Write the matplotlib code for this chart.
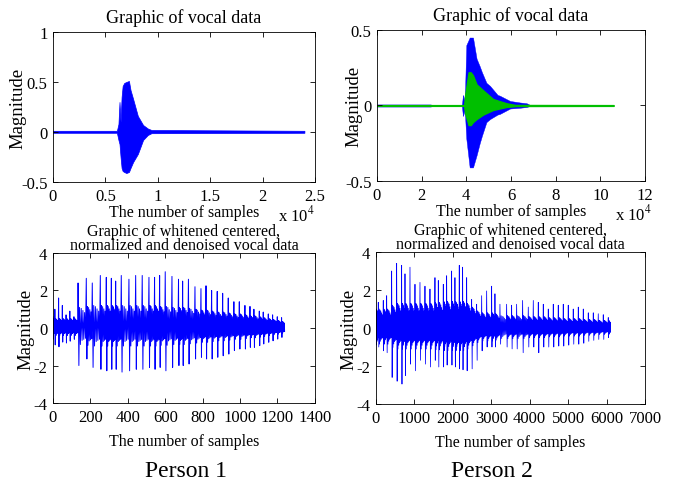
import matplotlib
matplotlib.use("Agg")
import matplotlib.pyplot as plt

plt.rcParams['font.family'] = ['Liberation Serif', 'DejaVu Serif']
plt.rcParams['mathtext.fontset'] = 'stix'
plt.rcParams['axes.unicode_minus'] = False

# --- Person 1, raw vocal data (envelope) ---
tl_x = [0, 6100, 6250, 6350, 6450, 6550, 6650, 6800, 7000, 7250, 7400, 7650, 8100, 8600, 9050, 9400, 24000]
tl_up = [0.012, 0.012, 0.08, 0.30, 0.10, 0.35, 0.46, 0.49, 0.50, 0.51, 0.42, 0.33, 0.16, 0.07, 0.035, 0.02, 0.012]
tl_lo = [-0.008, -0.008, -0.08, -0.12, -0.25, -0.36, -0.39, -0.40, -0.41, -0.40, -0.36, -0.30, -0.22, -0.08, -0.03, -0.012, -0.008]

# --- Person 2, raw vocal data (blue) and filtered (green) ---
tr_x = [0, 24000, 25000, 38000, 38500, 39300, 40000, 41500, 43000, 44600, 46000, 47000, 49000, 50600, 54000, 55000, 59600, 64000, 67000, 69000]
tr_up = [0.007, 0.007, 0.002, 0.002, 0.07, 0.03, 0.40, 0.45, 0.45, 0.31, 0.26, 0.22, 0.15, 0.13, 0.07, 0.065, 0.03, 0.02, 0.015, 0.0]
tr_lo = [-0.007, -0.007, -0.002, -0.002, -0.07, -0.03, -0.22, -0.41, -0.41, -0.33, -0.25, -0.20, -0.11, -0.09, -0.06, -0.056, -0.02, -0.015, -0.01, 0.0]

gr_x = [0, 39000, 39400, 41000, 42000, 43000, 44600, 47600, 52000, 58000, 62000, 106000]
gr_up = [0.003, 0.003, 0.065, 0.22, 0.22, 0.20, 0.14, 0.10, 0.043, 0.015, 0.004, 0.003]
gr_lo = [-0.003, -0.003, -0.05, -0.13, -0.13, -0.11, -0.09, -0.06, -0.03, -0.01, -0.004, -0.003]

# --- Person 1, whitened data: pulse positions, peaks, inner band ---
bl_pos = [0, 10, 30, 50, 70, 90, 112,
          134, 178, 210, 253, 285, 312, 335, 365, 406, 442, 477, 513, 543, 570, 600, 636, 671,
          693, 724, 759, 791, 818, 848, 878, 907, 937, 967, 996, 1026, 1053, 1074, 1103, 1124,
          1151, 1174, 1199, 1222]
bl_up = [0.6, 1.0, 1.6, 1.2, 0.7, 0.9, 0.6,
         2.4, 2.65, 2.4, 2.8, 2.7, 2.65, 2.5, 2.8, 2.6, 2.8, 2.8, 2.7, 2.7, 2.8, 3.0, 2.75, 2.6,
         2.5, 2.6, 2.2, 2.1, 2.25, 2.0, 1.95, 1.85, 1.6, 1.4, 1.4, 1.2, 1.15, 1.0, 0.9, 0.85,
         0.75, 0.7, 0.6, 0.55]
bl_down = [-0.6, -0.9, -1.0, -0.75, -0.8, -0.7, -0.6,
           -2.0, -1.65, -2.1, -2.2, -2.28, -2.2, -2.2, -2.35, -2.28, -2.2, -2.2, -2.1, -2.2, -2.1, -2.28, -2.1, -2.0,
           -2.0, -1.92, -1.65, -1.56, -1.65, -1.65, -1.56, -1.48, -1.39, -1.2, -1.12, -1.12, -1.03, -1.03, -0.94, -0.85,
           -0.76, -0.68, -0.59, -0.5]
bl_inner = [0.5] * 7 + [1.1, 1.15, 1.2, 1.2, 1.2, 1.2, 1.2, 1.2, 1.2, 1.2, 1.2, 1.2, 1.2, 1.15, 1.15, 1.1, 1.1] + \
           [1.1, 1.05, 1.0, 0.95, 0.95, 0.9, 0.85, 0.85, 0.8, 0.75, 0.75, 0.7, 0.65, 0.65, 0.6, 0.55, 0.5, 0.45, 0.4, 0.35]
bl_end = 1240

# --- Person 2, whitened data ---
br_pos = [0, 60, 190, 278, 408, 538, 668, 755, 885, 1015, 1145, 1275, 1405, 1535, 1622, 1752, 1839, 1969,
          2055, 2168, 2255, 2360, 2490, 2620, 2750, 2880, 3010, 3096, 3226, 3400, 3530, 3660, 3816, 3964,
          4094, 4224, 4354, 4484, 4614, 4744, 4874, 5004, 5134, 5265, 5395, 5525, 5655, 5785, 5915, 6045]
br_up = [0.7, 1.35, 1.45, 1.7, 3.0, 3.4, 3.3, 2.85, 3.2, 2.3, 2.4, 2.2, 2.05, 2.65, 2.5, 2.3, 2.75, 3.0,
         2.65, 3.3, 3.2, 2.65, 1.5, 1.25, 1.7, 1.95, 2.2, 1.8, 1.25, 1.25, 1.2, 1.25, 1.45, 1.1,
         1.45, 1.35, 1.25, 1.0, 1.25, 1.2, 1.25, 1.2, 1.0, 1.1, 1.0, 0.8, 0.8, 0.75, 0.7, 0.55]
br_down = [-0.9, -1.0, -1.2, -1.3, -2.6, -2.8, -2.95, -2.5, -1.9, -2.25, -1.7, -1.9, -2.05, -1.7, -2.05, -2.05, -1.95, -1.95,
           -2.05, -2.15, -2.2, -2.25, -2.15, -1.7, -1.2, -1.0, -1.0, -1.0, -0.85, -1.0, -1.1, -1.1, -1.3, -1.0,
           -1.0, -1.3, -1.0, -1.0, -1.0, -0.95, -0.95, -0.9, -0.85, -0.85, -0.8, -0.7, -0.65, -0.6, -0.6, -0.5]
br_inner = [1.0, 1.0, 1.0, 1.0, 1.2, 1.3, 1.3, 1.3, 1.3, 1.3, 1.3, 1.3, 1.3, 1.35, 1.35, 1.4, 1.4, 1.4,
            1.4, 1.4, 1.4, 1.3, 1.1, 0.9, 0.8, 0.8, 0.8, 0.75, 0.65, 0.65, 0.65, 0.65, 0.65, 0.6,
            0.6, 0.6, 0.6, 0.55, 0.55, 0.55, 0.5, 0.5, 0.5, 0.5, 0.45, 0.45, 0.45, 0.4, 0.4, 0.4]
br_end = 6110


def build_wave(pos, up, down, inner, end, shape):
    # one pulse = spike up, spike down, then smaller ringing until the next pulse
    xs, ys = [], []
    n = len(shape)
    for i, p in enumerate(pos):
        nxt = pos[i + 1] if i + 1 < len(pos) else end
        period = nxt - p
        xs += [p, p + 0.1 * period]
        ys += [up[i], down[i]]
        for j, f in enumerate(shape):
            xs.append(p + period * (0.18 + 0.82 * j / n))
            ys.append(f * inner[i] if j % 2 == 0 else -f * inner[i])
    return xs, ys


def matlab_axes(ax):
    ax.tick_params(direction='in', top=True, right=True, length=3.5, width=0.6, labelsize=12, pad=4)
    for s in ax.spines.values():
        s.set_linewidth(0.6)


fig = plt.figure(figsize=(6.75, 4.81), dpi=100)
ax1 = fig.add_axes([0.0785, 0.6195, 0.388, 0.312])
ax2 = fig.add_axes([0.5585, 0.6216, 0.397, 0.314])
ax3 = fig.add_axes([0.0785, 0.160, 0.388, 0.312])
ax4 = fig.add_axes([0.557, 0.158, 0.3985, 0.316])

# top left
ax1.fill_between(tl_x, tl_lo, tl_up, color='blue', lw=0.5)
ax1.set_xlim(0, 25000)
ax1.set_ylim(-0.5, 1)
ax1.set_xticks([0, 5000, 10000, 15000, 20000, 25000])
ax1.set_xticklabels(['0', '0.5', '1', '1.5', '2', '2.5'])
ax1.set_yticks([-0.5, 0, 0.5, 1])
ax1.set_yticklabels(['-0.5', '0', '0.5', '1'])

# top right
ax2.fill_between(tr_x, tr_lo, tr_up, color='blue', lw=0.3)
ax2.fill_between(gr_x, gr_lo, gr_up, color=(0.0, 0.75, 0.0), lw=0.9)
ax2.set_xlim(0, 120000)
ax2.set_ylim(-0.5, 0.5)
ax2.set_xticks([0, 20000, 40000, 60000, 80000, 100000, 120000])
ax2.set_xticklabels(['0', '2', '4', '6', '8', '10', '12'])
ax2.set_yticks([-0.5, 0, 0.5])
ax2.set_yticklabels(['-0.5', '0', '0.5'])

for ax, lab_x, pow_x in ((ax1, -0.102, 1.0), (ax2, -0.055, 1.026)):
    matlab_axes(ax)
    ax.set_title('Graphic of vocal data', fontsize=13, pad=7)
    ax.set_xlabel('The number of samples', fontsize=11.5)
    ax.xaxis.set_label_coords(0.5, -0.2)
    ax.xaxis.label.set_va('center')
    ax.set_ylabel('Magnitude', fontsize=13.5)
    ax.yaxis.set_label_coords(lab_x, 0.5)
    ax.text(pow_x, -0.215, r'x 10$^4$', transform=ax.transAxes, ha='right', va='center', fontsize=12)

# bottom left
x, y = build_wave(bl_pos, bl_up, bl_down, bl_inner, bl_end, [1.0, 0.8, 0.95, 0.6, 0.85, 0.55, 0.75, 0.5])
ax3.plot(x, y, color='blue', lw=0.7)
ax3.set_xlim(0, 1400)
ax3.set_xticks(range(0, 1401, 200))

# bottom right
x, y = build_wave(br_pos, br_up, br_down, br_inner, br_end, [1.0, 0.85, 0.95, 0.7, 0.9, 0.6, 0.8, 0.55, 0.7, 0.5])
ax4.plot(x, y, color='blue', lw=0.55)
ax4.set_xlim(0, 7000)
ax4.set_xticks(range(0, 7001, 1000))

for ax, lab_x in ((ax3, -0.069), (ax4, -0.067)):
    matlab_axes(ax)
    ax.set_ylim(-4, 4)
    ax.set_yticks([-4, -2, 0, 2, 4])
    ax.set_title('Graphic of whitened centered,\nnormalized and denoised vocal data',
                 fontsize=11.5, pad=3, linespacing=0.78)
    ax.set_xlabel('The number of samples', fontsize=11.5, labelpad=6)
    ax.set_ylabel('Magnitude', fontsize=13.5)
    ax.yaxis.set_label_coords(lab_x, 0.5)

fig.text(0.276, 0.008, 'Person 1', ha='center', va='baseline', fontsize=17)
fig.text(0.729, 0.008, 'Person 2', ha='center', va='baseline', fontsize=17)

fig.savefig('out.png', dpi=100)
